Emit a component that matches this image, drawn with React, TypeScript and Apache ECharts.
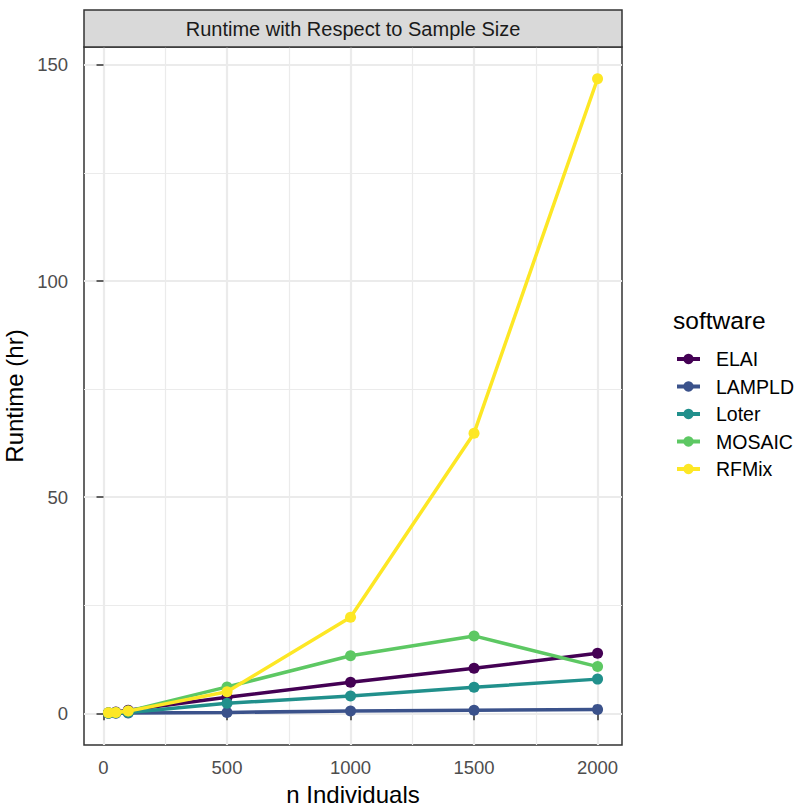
import React, { useEffect, useRef } from "react";
import * as echarts from "echarts";

const nIndividuals = [20, 50, 100, 500, 1000, 1500, 2000];
const softwareNames = ["ELAI", "LAMPLD", "Loter", "MOSAIC", "RFMix"];
const elai = [0.1, 0.3, 0.7, 3.7, 7.2, 10.4, 13.9];
const lampld = [0.0, 0.0, 0.05, 0.2, 0.5, 0.7, 0.9];
const loter = [0.0, 0.1, 0.2, 2.3, 4.0, 6.0, 7.9];
const mosaic = [0.1, 0.2, 0.5, 6.1, 13.3, 17.9, 10.8];
const rfmix = [0.1, 0.2, 0.5, 5.0, 22.2, 64.8, 146.8];
const seriesValues = [elai, lampld, loter, mosaic, rfmix];
const colors = ["#440154", "#3B528B", "#21908C", "#5DC863", "#FDE725"];

const xTicks = [0, 500, 1000, 1500, 2000];
const xMinor = [250, 750, 1250, 1750];
const yTicks = [0, 50, 100, 150];
const yMinor = [25, 75, 125];

const FONT = "'Liberation Sans', Arial, Helvetica, sans-serif";

export default function App() {
  const ref = useRef<HTMLDivElement>(null);
  useEffect(() => {
    if (!ref.current) return;
    const chart = echarts.init(ref.current, undefined, { renderer: "svg" });
    const gridData: any[] = [];
    xMinor.forEach((v) => gridData.push({ xAxis: v, lineStyle: { color: "#EBEBEB", width: 1.2, type: "solid" } }));
    yMinor.forEach((v) => gridData.push({ yAxis: v, lineStyle: { color: "#EBEBEB", width: 1.2, type: "solid" } }));
    xTicks.forEach((v) => gridData.push({ xAxis: v, lineStyle: { color: "#EBEBEB", width: 2.2, type: "solid" } }));
    yTicks.forEach((v) => gridData.push({ yAxis: v, lineStyle: { color: "#EBEBEB", width: 2.2, type: "solid" } }));

    const series: any[] = [
      {
        name: "grid",
        type: "line",
        data: [],
        silent: true,
        z: 0,
        markLine: {
          silent: true,
          z: 0,
          symbol: ["none", "none"],
          label: { show: false },
          animation: false,
          data: gridData,
        },
      },
    ];
    softwareNames.forEach((name, i) => {
      series.push({
        name,
        type: "line",
        data: nIndividuals.map((x, j) => [x, seriesValues[i][j]]),
        color: colors[i],
        symbol: "circle",
        symbolSize: 11,
        showSymbol: true,
        lineStyle: { width: 3.5, color: colors[i] },
        itemStyle: { color: colors[i], borderWidth: 0 },
        z: 2 + i,
      });
    });

    chart.setOption({
      animation: false,
      textStyle: { fontFamily: FONT },
      grid: {
        left: 84,
        top: 47,
        width: 538,
        height: 698,
        show: true,
        borderColor: "#333333",
        borderWidth: 1.5,
        backgroundColor: "#ffffff",
        containLabel: false,
        outerBoundsMode: "none",
      },
      xAxis: {
        type: "value",
        min: -79,
        max: 2099,
        axisLine: { show: false },
        splitLine: { show: false },
        axisTick: { show: true, inside: false, length: 7, customValues: xTicks, lineStyle: { color: "#333333", width: 1.5 } },
        axisLabel: {
          customValues: xTicks,
          margin: 13,
          fontSize: 18.5,
          color: "#4D4D4D",
          fontFamily: FONT,
          formatter: (v: number) => String(v),
        },
        name: "n Individuals",
        nameLocation: "middle",
        nameGap: 37,
        nameTextStyle: { fontSize: 24, color: "#000000", fontFamily: FONT },
      },
      yAxis: {
        type: "value",
        min: -7.34,
        max: 154.14,
        axisLine: { show: false },
        splitLine: { show: false },
        axisTick: { show: true, inside: false, length: 7, customValues: yTicks, lineStyle: { color: "#333333", width: 1.5 } },
        axisLabel: {
          customValues: yTicks,
          margin: 16,
          fontSize: 18.5,
          color: "#4D4D4D",
          fontFamily: FONT,
          formatter: (v: number) => String(v),
        },
        name: "Runtime (hr)",
        nameLocation: "middle",
        nameGap: 55,
        nameRotate: 90,
        nameTextStyle: { fontSize: 24, color: "#000000", fontFamily: FONT },
      },
      legend: {
        data: softwareNames,
        orient: "vertical",
        left: 670,
        top: 344,
        itemWidth: 23,
        itemHeight: 13,
        itemGap: 7.5,
        lineStyle: { width: 4 },
        textStyle: { fontSize: 19.5, color: "#000000", fontFamily: FONT, padding: [0, 0, 0, 11] },
        selectedMode: false,
      },
      graphic: [
        {
          type: "rect",
          shape: { x: 84, y: 10, width: 538, height: 37 },
          style: { fill: "#D9D9D9", stroke: "#333333", lineWidth: 1.5 },
          z: 10,
        },
        {
          type: "text",
          x: 353,
          y: 28.5,
          style: {
            text: "Runtime with Respect to Sample Size",
            fontSize: 20,
            fill: "#1A1A1A",
            fontFamily: FONT,
            align: "center",
            verticalAlign: "middle",
          },
          z: 11,
        },
        {
          type: "text",
          x: 673,
          y: 320,
          style: {
            text: "software",
            fontSize: 24.5,
            fill: "#000000",
            fontFamily: FONT,
            align: "left",
            verticalAlign: "middle",
          },
        },
      ],
      series,
    });
    return () => chart.dispose();
  }, []);
  return <div ref={ref} style={{ width: 795, height: 808, position: "absolute", left: 0, top: 0 }} />;
}
